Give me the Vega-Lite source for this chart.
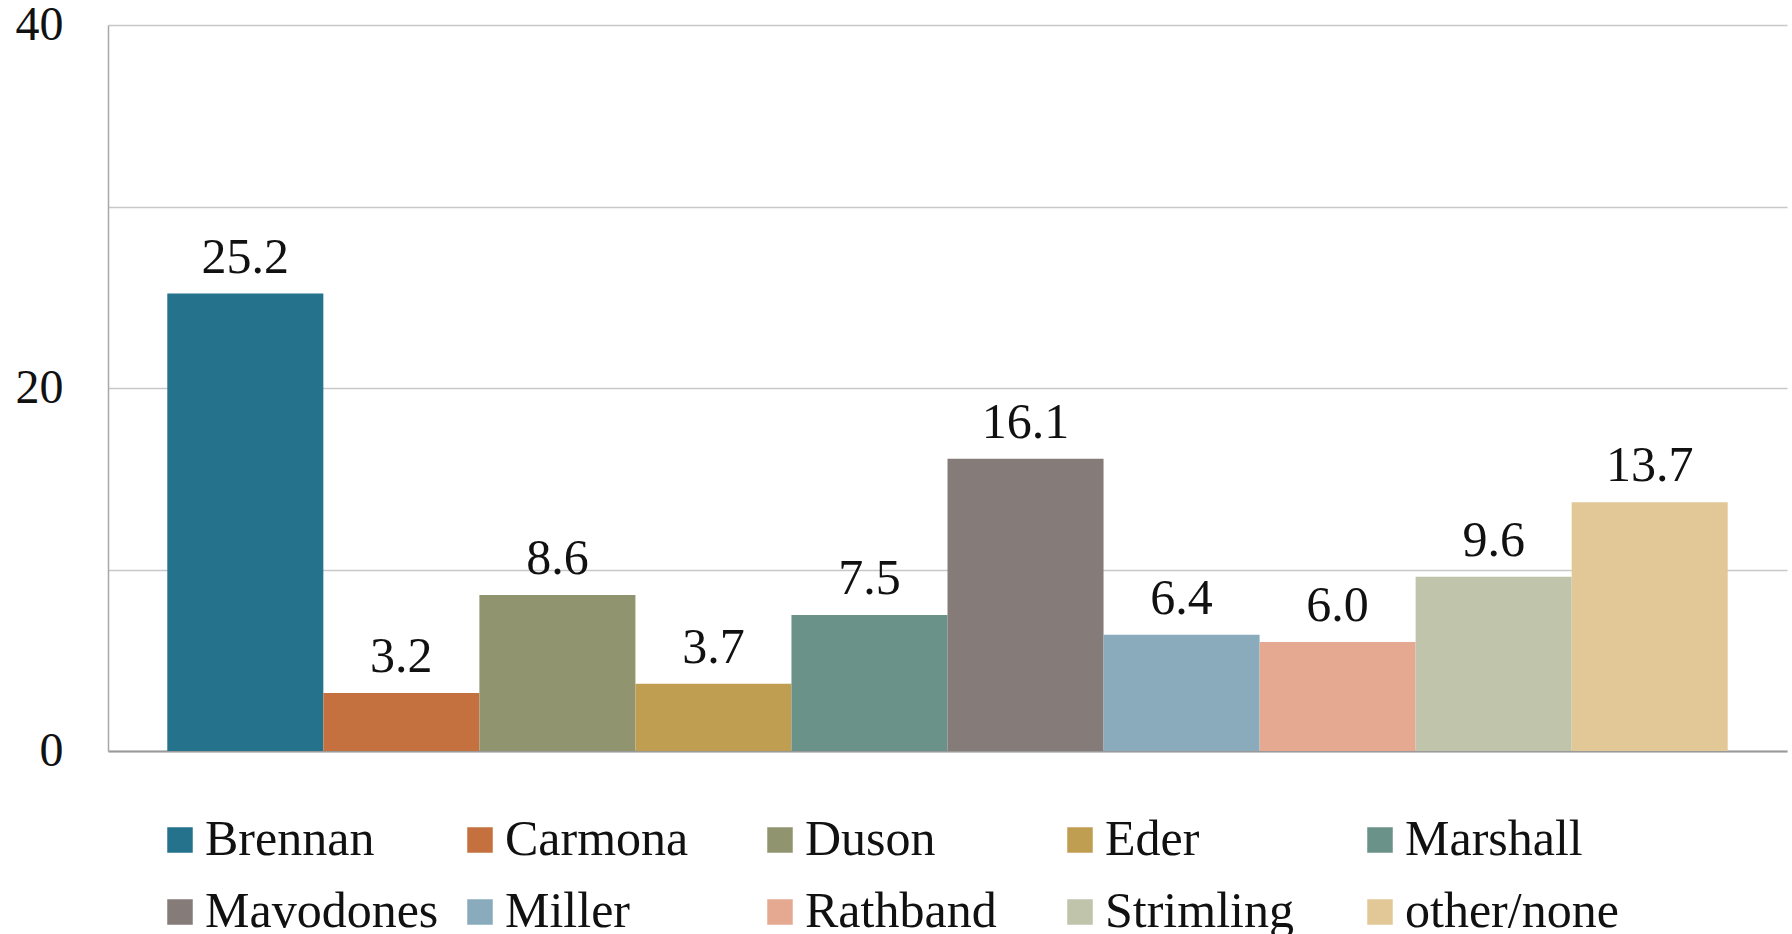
{
  "$schema": "https://vega.github.io/schema/vega-lite/v6.json",
  "autosize": {"type": "none"},
  "width": 1679,
  "height": 726,
  "padding": {"left": 108, "top": 25, "right": 5, "bottom": 183},
  "background": "white",
  "config": {
    "font": "Liberation Serif",
    "view": {"stroke": null}
  },
  "data": {
    "values": [
      {"name": "Brennan", "value": 25.2, "label": "25.2"},
      {"name": "Carmona", "value": 3.2, "label": "3.2"},
      {"name": "Duson", "value": 8.6, "label": "8.6"},
      {"name": "Eder", "value": 3.7, "label": "3.7"},
      {"name": "Marshall", "value": 7.5, "label": "7.5"},
      {"name": "Mavodones", "value": 16.1, "label": "16.1"},
      {"name": "Miller", "value": 6.4, "label": "6.4"},
      {"name": "Rathband", "value": 6.0, "label": "6.0"},
      {"name": "Strimling", "value": 9.6, "label": "9.6"},
      {"name": "other/none", "value": 13.7, "label": "13.7"}
    ]
  },
  "encoding": {
    "x": {
      "field": "name",
      "type": "nominal",
      "sort": null,
      "scale": {"paddingInner": 0, "paddingOuter": 0.38},
      "axis": {
        "title": null,
        "labels": false,
        "ticks": false,
        "domain": true,
        "domainColor": "#9a9a9a",
        "domainWidth": 2
      }
    },
    "y": {
      "field": "value",
      "type": "quantitative",
      "scale": {"domain": [0, 40], "nice": false},
      "axis": {
        "title": null,
        "values": [0, 10, 20, 30, 40],
        "labelExpr": "datum.value % 20 == 0 ? datum.label : ''",
        "ticks": false,
        "domain": true,
        "domainColor": "#a8a8a8",
        "domainWidth": 1.5,
        "grid": true,
        "gridColor": "#c8c8c8",
        "gridWidth": 1.5,
        "labelFont": "Liberation Serif",
        "labelFontSize": 48,
        "labelColor": "#111111",
        "labelPadding": 45
      }
    }
  },
  "layer": [
    {
      "mark": {"type": "bar"},
      "encoding": {
        "color": {
          "field": "name",
          "type": "nominal",
          "sort": null,
          "scale": {
            "domain": ["Brennan", "Carmona", "Duson", "Eder", "Marshall", "Mavodones", "Miller", "Rathband", "Strimling", "other/none"],
            "range": ["#24728B", "#C4703F", "#91956F", "#BF9D51", "#6A9289", "#857B79", "#89ABBB", "#E5A891", "#BFC4AA", "#E2C797"]
          },
          "legend": {
            "title": null,
            "orient": "none",
            "legendX": 47,
            "legendY": 790,
            "direction": "horizontal",
            "columns": 5,
            "gridAlign": "all",
            "symbolType": "square",
            "symbolSize": 650,
            "symbolStrokeWidth": 0,
            "labelFont": "Liberation Serif",
            "labelFontSize": 50,
            "labelColor": "#111111",
            "labelOffset": 0,
            "labelLimit": 400,
            "columnPadding": 16,
            "rowPadding": 22
          }
        }
      }
    },
    {
      "mark": {"type": "text", "baseline": "alphabetic", "dy": -21, "font": "Liberation Serif", "fontSize": 50, "color": "#111111"},
      "encoding": {
        "text": {"field": "label"}
      }
    }
  ]
}
